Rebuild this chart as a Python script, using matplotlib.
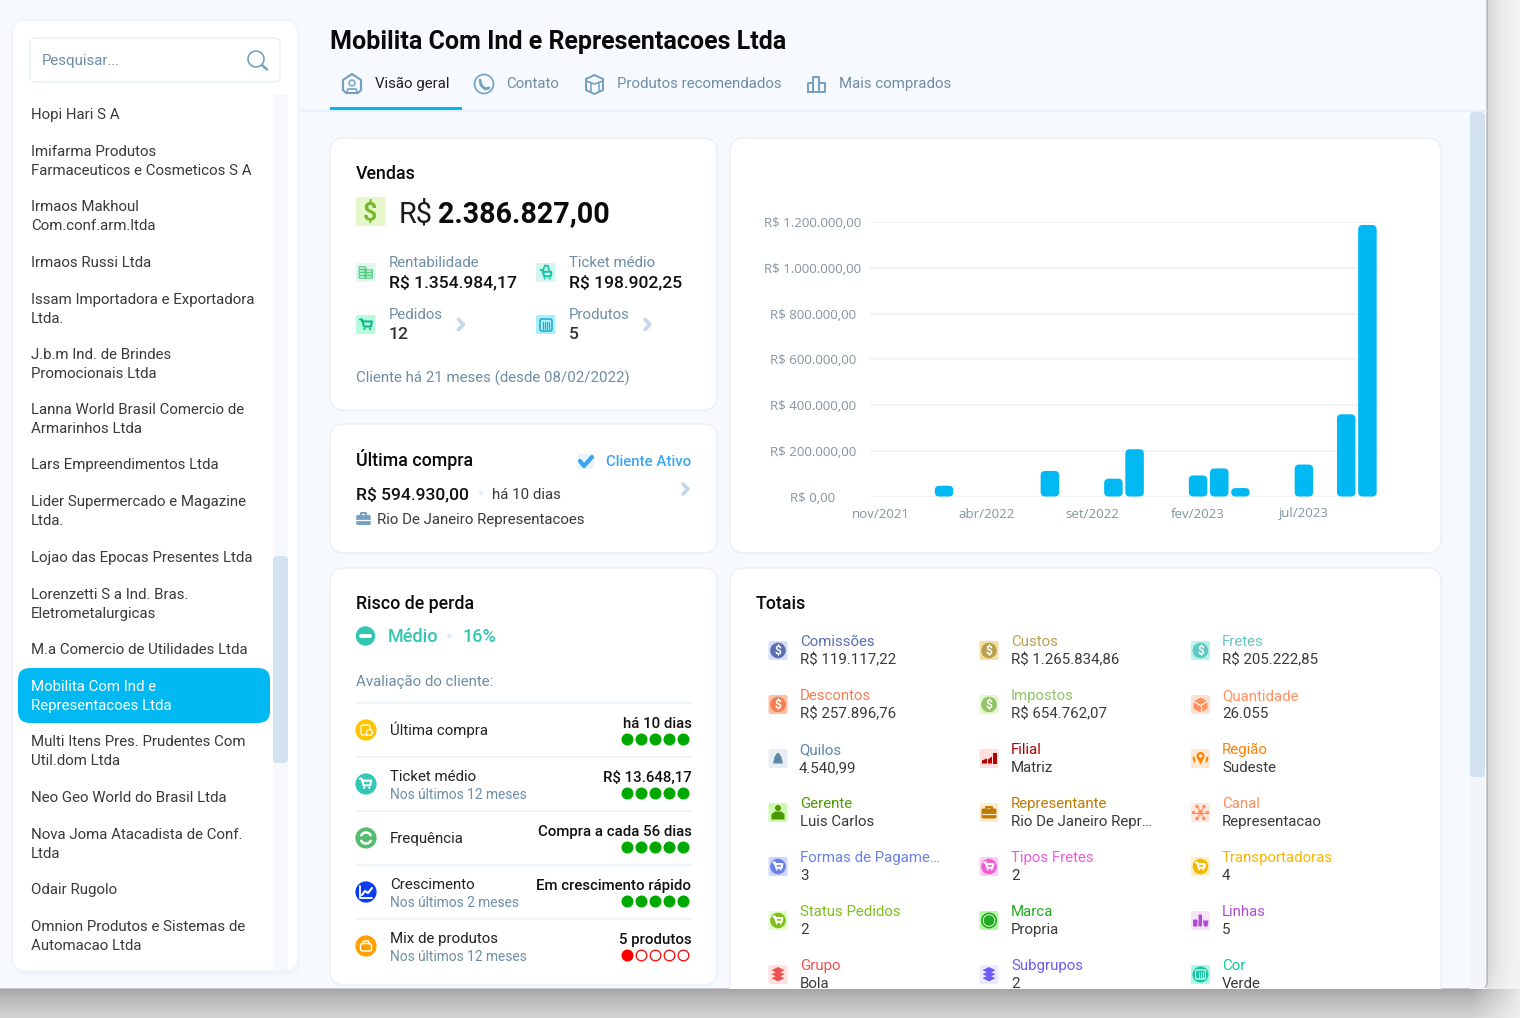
import numpy as np
import matplotlib
matplotlib.use("Agg")
import matplotlib.pyplot as plt
from matplotlib.patches import FancyBboxPatch, Circle, Rectangle, Polygon

# ---------- data ----------
months = ["nov/2021","dez/2021","jan/2022","fev/2022","mar/2022","abr/2022","mai/2022","jun/2022",
          "jul/2022","ago/2022","set/2022","out/2022","nov/2022","dez/2022","jan/2023","fev/2023",
          "mar/2023","abr/2023","mai/2023","jun/2023","jul/2023","ago/2023","set/2023","out/2023"]
sales = [0,0,0,47000,0,0,0,0,112000,0,0,78000,207000,0,0,92000,123000,37000,0,0,140000,0,360000,1189000]
y_ticks = [0,200000,400000,600000,800000,1000000,1200000]
y_tick_labels = ["R$ 0,00","R$ 200.000,00","R$ 400.000,00","R$ 600.000,00","R$ 800.000,00",
                 "R$ 1.000.000,00","R$ 1.200.000,00"]
x_tick_idx = [0,5,10,15,20]

sidebar_items = ["Hopi Hari S A","Imifarma Produtos\nFarmaceuticos e Cosmeticos S A","Irmaos Makhoul\nCom.conf.arm.ltda",
 "Irmaos Russi Ltda","Issam Importadora e Exportadora\nLtda.","J.b.m Ind. de Brindes\nPromocionais Ltda",
 "Lanna World Brasil Comercio de\nArmarinhos Ltda","Lars Empreendimentos Ltda","Lider Supermercado e Magazine\nLtda.",
 "Lojao das Epocas Presentes Ltda","Lorenzetti S a Ind. Bras.\nEletrometalurgicas","M.a Comercio de Utilidades Ltda",
 "Mobilita Com Ind e\nRepresentacoes Ltda","Multi Itens Pres. Prudentes Com\nUtil.dom Ltda","Neo Geo World do Brasil Ltda",
 "Nova Joma Atacadista de Conf.\nLtda","Odair Rugolo","Omnion Produtos e Sistemas de\nAutomacao Ltda"]
sidebar_y = [114,160.5,215.5,262,308.5,363.5,418.5,464,510.5,557,603.5,649,695.5,750.5,797,843.5,889,935.5]
selected_item = 12

tab_labels = ["Visão geral","Contato","Produtos recomendados","Mais comprados"]

risk_labels = ["Última compra","Ticket médio","Frequência","Crescimento","Mix de produtos"]
risk_subs = ["","Nos últimos 12 meses","","Nos últimos 2 meses","Nos últimos 12 meses"]
risk_values = ["há 10 dias","R$ 13.648,17","Compra a cada 56 dias","Em crescimento rápido","5 produtos"]
risk_scores = [5,5,5,5,1]
risk_colors = ["#ffc400","#35c6b6","#55bb6e","#0a3cf0","#ff9f00"]

total_labels = ["Comissões","Custos","Fretes","Descontos","Impostos","Quantidade","Quilos","Filial","Região",
                "Gerente","Representante","Canal","Formas de Pagame…","Tipos Fretes","Transportadoras",
                "Status Pedidos","Marca","Linhas","Grupo","Subgrupos","Cor"]
total_values = ["R$ 119.117,22","R$ 1.265.834,86","R$ 205.222,85","R$ 257.896,76","R$ 654.762,07","26.055",
                "4.540,99","Matriz","Sudeste","Luis Carlos","Rio De Janeiro Repr…","Representacao",
                "3","2","4","2","Propria","5","Bola","2","Verde"]
total_colors = ["#5b6fb0","#b8a050","#62c8bf","#f37f55","#93c36b","#ff9060","#5f87aa","#b00000","#ff8000",
                "#4c9a00","#bf7a00","#ff8c5a","#6a80e8","#ee5fd5","#f5b800","#7ec01c","#22aa22","#b04ad0",
                "#f05050","#6a5cf5","#10c8a0"]
total_tints = ["#d5dffb","#f5df9f","#b5f5ee","#ffc0a5","#e3f9cc","#ffe0d0","#e8eef3","#ffdede","#ffe8d0",
               "#d0f8b0","#ffeccf","#ffe8e0","#cfd8fb","#fbd0f5","#fff0c0","#e3fcc8","#b5f9a5","#f5e4fc",
               "#ffe0e0","#ece8ff","#b0f8e5"]
total_icons = ["dollar","dollar","dollar","dollar","dollar","box","weight","chart","pin","person","case","net",
               "cart","cart","cart","cart","badge","bottle","layers","layers","barrel"]

# ---------- set-up ----------
W, H = 1520, 1018
plt.rcParams["font.family"] = ["Roboto", "DejaVu Sans"]
fig = plt.figure(figsize=(W/100, H/100), dpi=100)
ax = fig.add_axes([0, 0, 1, 1])
ax.set_xlim(0, W); ax.set_ylim(H, 0); ax.axis("off")

BG = "#f6f9fd"; BORDER = "#e8f0f8"; MUTED = "#6d8ea4"; DARK = "#3a3a3a"; BLUE = "#00b9f2"; THUMB = "#d3e2f1"
PX = 0.72

def T(x, y, s, size=15, color=DARK, weight="normal", ha="left", z=6, clip=None, **k):
    # y is the middle of the capital letters; the text sits on a baseline so all rows line up
    t = ax.text(x, y+0.355*size, s, fontsize=size*PX, color=color, fontweight=weight, ha=ha, va="baseline", zorder=z, **k)
    if clip is not None:
        t.set_clip_path(clip); t.set_clip_on(True)
    return t

def RR(x0, y0, x1, y1, r, fc, ec="none", lw=1, z=2, **k):
    p = FancyBboxPatch((x0, y0), x1-x0, y1-y0, boxstyle=f"round,pad=0,rounding_size={r}", fc=fc, ec=ec, lw=lw, zorder=z, **k)
    ax.add_patch(p); return p

def C(x, y, r, fc, ec="none", lw=1, z=4):
    p = Circle((x, y), r, fc=fc, ec=ec, lw=lw, zorder=z); ax.add_patch(p); return p

def L(pts, color, lw=1.2, z=5, **k):
    a = np.array(pts, float)
    ax.plot(a[:,0], a[:,1], color=color, lw=lw*PX*1.4, zorder=z, solid_capstyle="round", solid_joinstyle="round", **k)

def P(pts, color, z=5):
    ax.add_patch(Polygon(pts, closed=True, fc=color, ec="none", zorder=z))

def chevron(x, y, color="#c3d8ec"):
    L([(x-3, y-5), (x+2, y), (x-3, y+5)], color, lw=2.6)

def cart(cx, cy, color, s=1.0):
    L([(cx-6*s,cy-5*s),(cx-4*s,cy-5*s),(cx-2*s,cy+2*s),(cx+5*s,cy+2*s),(cx+6*s,cy-3*s),(cx-3.5*s,cy-3*s)], color, lw=1.5)
    C(cx-1.5*s, cy+4.5*s, 1.1*s, color, z=5); C(cx+4*s, cy+4.5*s, 1.1*s, color, z=5)

def case(cx, cy, w, h, color, knock="white"):
    RR(cx-w/2, cy-h/2+2, cx+w/2, cy+h/2, 1.5, color, z=5)
    L([(cx-w/5, cy-h/2+2),(cx-w/5, cy-h/2),(cx+w/5, cy-h/2),(cx+w/5, cy-h/2+2)], color, lw=1.4)
    L([(cx-w/2, cy+1),(cx+w/2, cy+1)], knock, lw=0.9, z=6)

def layers(cx, cy, color):
    for dy in (-4, 0, 4):
        P([(cx-7,cy+dy),(cx,cy+dy-3.5),(cx+7,cy+dy),(cx,cy+dy+3.5)], color, z=5)
        L([(cx-7,cy+dy),(cx,cy+dy+3.5),(cx+7,cy+dy)], "white", lw=0.6, z=5)

def total_icon(kind, cx, cy, color, tint):
    RR(cx-9.5, cy-9.5, cx+9.5, cy+9.5, 2, tint, z=3)
    if kind == "dollar":
        C(cx, cy, 7.8, color)
        T(cx, cy, "$", size=12, color="white", weight="bold", ha="center")
    elif kind == "box":
        P([(cx-7,cy-3),(cx,cy-7),(cx+7,cy-3),(cx+7,cy+4),(cx,cy+8),(cx-7,cy+4)], color)
        L([(cx-7,cy-3),(cx,cy+1),(cx+7,cy-3)], "white", lw=0.8, z=6); L([(cx,cy+1),(cx,cy+8)], "white", lw=0.8, z=6)
    elif kind == "weight":
        P([(cx-3,cy-3),(cx+3,cy-3),(cx+5,cy+5),(cx-5,cy+5)], color); C(cx, cy-3.5, 2, color, z=5)
    elif kind == "chart":
        P([(cx-7,cy+5),(cx-7,cy+2),(cx-2,cy),(cx-2,cy+5)], color); P([(cx-1,cy+5),(cx-1,cy+1),(cx+3,cy-2),(cx+3,cy+5)], color)
        ax.add_patch(Rectangle((cx+4, cy-6), 3.5, 11, fc=color, zorder=5))
    elif kind == "pin":
        C(cx, cy-2.5, 4, color); C(cx, cy-2.5, 1.8, tint, z=5); P([(cx-3,cy),(cx+3,cy),(cx,cy+6)], color)
        L([(cx-7,cy-1),(cx-6,cy+3)], color, lw=1.4); L([(cx+7,cy-1),(cx+6,cy+3)], color, lw=1.4)
    elif kind == "person":
        C(cx, cy-4.5, 3, color); P([(cx-6.5,cy+7),(cx-6.5,cy+1.5),(cx-3,cy-1),(cx+3,cy-1),(cx+6.5,cy+1.5),(cx+6.5,cy+7)], color)
    elif kind == "case":
        case(cx, cy, 15, 12, color, knock=tint)
    elif kind == "net":
        C(cx, cy, 2.2, color)
        for a in range(0, 360, 60):
            ex, ey = cx+7*np.cos(np.radians(a)), cy+7*np.sin(np.radians(a))
            L([(cx, cy), (ex, ey)], color, lw=0.8); C(ex, ey, 1.7, color)
    elif kind == "cart":
        C(cx, cy, 7.8, color); cart(cx-0.2, cy-0.2, "white", 0.75)
    elif kind == "badge":
        C(cx, cy, 8, color); C(cx, cy, 5.8, color, ec="#dff7d5", lw=0.7, z=5)
    elif kind == "bottle":
        RR(cx-7.5, cy-1, cx-3, cy+6, 1, color, z=5); RR(cx-2, cy-6, cx+1.5, cy+6, 1, color, z=5)
        P([(cx+2.5,cy),(cx+8,cy),(cx+7,cy+6),(cx+3.5,cy+6)], color)
    elif kind == "layers":
        layers(cx, cy, color)
    elif kind == "barrel":
        C(cx, cy, 8, color); RR(cx-5, cy-4.5, cx+5, cy+4.5, 1, "none", ec="white", lw=0.8, z=5)
        for d in (-2, 0, 2):
            L([(cx+d, cy-3), (cx+d, cy+3)], "white", lw=0.6, z=6)

# ---------- backdrop with window shadow ----------
yy, xx = np.mgrid[0:H, 0:W]
dy = np.clip(yy-989, 0, None); dx = np.clip(xx-1487, 0, None)
fade_x = np.clip((1530-xx)/60, 0, 1)
fade_y = np.clip((1018-yy)/60+0.1, 0, 1)
dark_b = 0.31*np.exp(-dy/36.0)*(yy >= 989)*fade_x
dark_r = 0.13*np.exp(-dx/14.0)*(xx >= 1487)*fade_y
dark = np.maximum(dark_b, dark_r)
ax.imshow(1-0.04-dark, cmap="gray", vmin=0, vmax=1, extent=(0, W, H, 0), zorder=0, aspect="auto", interpolation="bilinear")
ax.set_xlim(0, W); ax.set_ylim(H, 0)

window = FancyBboxPatch((-20, -20), 1507, 1009, boxstyle="round,pad=0,rounding_size=7", fc=BG, ec="#a6a6a6", lw=0.8, zorder=1)
ax.add_patch(window)
clip_win = Rectangle((0, 0), 1487, 989, transform=ax.transData)

# ---------- header ----------
T(330, 40.5, "Mobilita Com Ind e Representacoes Ltda", size=25, color="#0a0a0a", weight="bold")
ax.add_patch(Rectangle((302, 110), 1185, 1.5, fc="#e6eff8", ec="none", zorder=2))
ax.add_patch(Rectangle((330, 107), 131.5, 3.2, fc=BLUE, ec="none", zorder=3))
tab_x = [375, 506, 617, 839]
for i, (tx, lab) in enumerate(zip(tab_x, tab_labels)):
    T(tx, 83, lab, size=15, color="#222222" if i == 0 else MUTED)
ic = "#74a0c2"
# tab icons
L([(343,90),(343,80),(352,74),(361,80),(361,90),(358,93),(346,93),(343,90)], ic, lw=1.5)
C(352, 83, 3, "none", ec=ic, lw=1.0, z=5); L([(347,92),(348,89),(356,89),(357,92)], ic, lw=1.2)
C(484, 84, 9.5, "none", ec=ic, lw=1.2, z=5); L([(480,80),(481,85),(485,89),(489,88)], ic, lw=2.0)
L([(586,79),(594.5,75),(603,79),(603,90),(594.5,94),(586,90),(586,79)], ic, lw=1.4)
L([(586,81),(594.5,84),(603,81)], ic, lw=1.2); L([(590.5,83),(590.5,92)], ic, lw=1.1); L([(598.5,83),(598.5,92)], ic, lw=1.1)
L([(808,92),(808,83),(813,83),(813,92),(808,92)], ic, lw=1.4); L([(813,92),(813,77),(819,77),(819,92),(813,92)], ic, lw=1.4)
L([(819,92),(825,92),(825,83),(819,83)], ic, lw=1.4)

# ---------- sidebar ----------
RR(14, 24, 300, 975, 14, "#e9f0f8", z=1, alpha=0.5)
RR(12, 20, 298, 971, 14, "white", ec="#eef4fa", lw=1, z=2)
RR(30, 38, 280, 82, 6, "white", ec="#e3ecf5", lw=0.8, z=3)
T(42, 60, "Pesquisar...", size=15, color=MUTED)
C(256, 59, 8, "none", ec="#74a0c2", lw=1.2, z=5); L([(262,65),(267,69.5)], "#74a0c2", lw=1.8)
ax.add_patch(Rectangle((273, 95), 15, 875, fc="#f5f8fc", ec="none", zorder=3))
RR(273, 556, 288, 763, 4, THUMB, z=4)
RR(18, 668, 270, 723, 12, BLUE, z=4)
for i, (s, y) in enumerate(zip(sidebar_items, sidebar_y)):
    col = "white" if i == selected_item else DARK
    rows = s.split("\n")
    if len(rows) == 1:
        T(31, y, rows[0], size=15, color=col)
    else:
        T(31, y-9.5, rows[0], size=15, color=col)
        T(31, y+9.5, rows[1], size=15, color=col)

# right page scrollbar
ax.add_patch(Rectangle((1470, 112), 15, 877, fc="#f2f6fb", ec="none", zorder=2))
RR(1470, 112, 1485, 777, 4, THUMB, z=3)

# ---------- cards ----------
for (x0, y0, x1, y1) in [(330,138,717,410),(330,424,717,553),(330,568,717,985),(730,138,1441,553),(730,568,1441,1010)]:
    p = RR(x0, y0, x1, y1, 14, "white", ec=BORDER, lw=1, z=2)
    p.set_clip_path(clip_win)

# Vendas
T(356, 173, "Vendas", size=17.7, color="#0a0a0a", weight="medium")
RR(356, 197, 385.5, 226, 2, "#e6f8c9", z=3)
T(370.5, 211.5, "$", size=25, color="#78b82e", weight="bold", ha="center")
T(399, 212, "R$", size=29, color="#1c1c1c")
T(438, 212, "2.386.827,00", size=28.6, color="#0a0a0a", weight="bold")
T(389, 262, "Rentabilidade", size=15, color=MUTED)
T(389, 281, "R$ 1.354.984,17", size=17.5, color="#111111", weight="medium")
T(569, 262, "Ticket médio", size=15, color=MUTED)
T(569, 281, "R$ 198.902,25", size=17.5, color="#111111", weight="medium")
T(389, 314, "Pedidos", size=15, color=MUTED)
T(389, 333, "12", size=17.5, color="#333333", weight="medium")
T(569, 314, "Produtos", size=15, color=MUTED)
T(569, 333, "5", size=17.5, color="#333333", weight="medium")
RR(356, 263, 375.5, 282, 2, "#e0f6ee", z=3)
for d in (-4, -1, 2, 5):
    RR(359, 272+d-1.2, 366, 272+d+1.2, 1, "none", ec="#48cc7e", lw=0.8, z=5)
for d in (-1, 2, 5):
    RR(365, 272+d-1.2, 372.5, 272+d+1.2, 1, "none", ec="#48cc7e", lw=0.8, z=5)
RR(536, 263, 555.5, 282, 2, "#d2f7ef", z=3)
cart(546, 274.5, "#1cc3a6", 0.9)
L([(543,270),(545,265.5),(548,266),(549,270)], "#1cc3a6", lw=1.3)
RR(356, 315, 375.5, 334, 2, "#b5fbdc", z=3)
cart(366, 324.5, "#10b88c", 1.0)
RR(536, 315, 555.5, 334, 2, "#a5f0fb", z=3)
RR(540, 319, 552, 331, 2, "none", ec="#25a7c5", lw=1.1, z=5)
for d in (-3, -1, 1, 3):
    L([(546+d, 321.5), (546+d, 328.5)], "#25a7c5", lw=0.8)
chevron(461.5, 324.5); chevron(648, 324.5)
T(356, 377, "Cliente há 21 meses (desde 08/02/2022)", size=15, color=MUTED)

# Ultima compra
T(356, 460, "Última compra", size=17.7, color="#0a0a0a", weight="medium")
ax.add_patch(Rectangle((578, 454), 15.5, 15, fc="#eaf4fc", ec="none", zorder=3))
L([(580,461),(584,466),(592,457)], "#3fa4ef", lw=3)
T(691.5, 461, "Cliente Ativo", size=15, color="#3fa4ef", weight="medium", ha="right")
T(356, 493, "R$ 594.930,00", size=17.5, color="#111111", weight="medium")
C(481, 493, 2.3, "#e3edf7")
T(492.5, 494, "há 10 dias", size=15, color=DARK)
chevron(686, 489)
case(363.5, 519, 14.5, 12, "#74a0c2")
T(377, 519, "Rio De Janeiro Representacoes", size=15, color=DARK)

# Risco
T(356, 603, "Risco de perda", size=17.7, color="#0a0a0a", weight="medium")
C(365.5, 636, 9.7, "#31c6b2")
L([(361, 636), (370, 636)], "white", lw=2.8, z=6)
T(388, 636, "Médio", size=18, color="#31c6b2", weight="medium")
C(449.5, 636, 2.3, "#e3edf7")
T(463, 636, "16%", size=18, color="#31c6b2", weight="medium")
T(356, 681, "Avaliação do cliente:", size=15, color=MUTED)

for i in range(5):
    y0 = 703 + 54*i
    ax.add_patch(Rectangle((356, y0-0.8), 335.5, 1.8, fc="#eff4f9", ec="none", zorder=3))
    cy = y0 + 27
    C(366, cy, 10.6, risk_colors[i])
    if i == 0:
        RR(361, cy-5, 370, cy+5, 1.5, "none", ec="white", lw=0.9, z=5); C(369.5, cy+2.5, 3, risk_colors[i], ec="white", lw=0.9, z=6)
    elif i == 1:
        cart(365.5, cy-0.5, "white", 0.95)
    elif i == 2:
        th = np.radians(np.arange(30, 160, 10)); L(np.c_[366+5.5*np.cos(th), cy-5.5*np.sin(th)], "white", lw=1.8)
        L(np.c_[366-5.5*np.cos(th), cy+5.5*np.sin(th)], "white", lw=1.8)
    elif i == 3:
        L([(360,cy-6),(360,cy+6),(372,cy+6)], "white", lw=1.3); L([(362,cy+3),(365,cy-1),(368,cy+1),(372,cy-4)], "white", lw=1.5)
    else:
        RR(360.5, cy-2.5, 371.5, cy+5, 2, "none", ec="white", lw=1.0, z=5)
        L([(363,cy-2),(363.5,cy-5),(368.5,cy-5),(369,cy-2)], "white", lw=1.1)
    if risk_subs[i]:
        T(390, cy-8, risk_labels[i], size=15, color="#222222")
        T(390, cy+10, risk_subs[i], size=13.7, color=MUTED)
    else:
        T(390, cy, risk_labels[i], size=15, color="#222222")
    T(691.5, cy-7, risk_values[i], size=15, color="#111111", weight="medium", ha="right")
    col = "#00a900" if risk_scores[i] >= 3 else "#ff0000"
    for k in range(5):
        xk = 627.5 + 14*k
        if k < risk_scores[i]:
            C(xk, cy+9.5, 6, col)
        else:
            C(xk, cy+9.5, 5.3, "white", ec=col, lw=0.9)

# Totais
T(756, 603, "Totais", size=17.7, color="#0a0a0a", weight="medium")
col_icon = [778, 989, 1200.5]; col_text = [800, 1011, 1222]
for i, lab in enumerate(total_labels):
    r, c = divmod(i, 3)
    y = 641 + 54*r
    tx = 799 if lab == "Quilos" else col_text[c]
    T(tx, y, lab, size=15, color=total_colors[i], clip=clip_win)
    T(tx, y+18, total_values[i], size=15, color=DARK, clip=clip_win)
    total_icon(total_icons[i], col_icon[c], y+9.5, total_colors[i], total_tints[i])

# ---------- bar chart in its own axes ----------
LEFT, RIGHT, TOP, BOT = 870, 1378, 222.5, 496.5
bx = fig.add_axes([LEFT/W, 1-BOT/H, (RIGHT-LEFT)/W, (BOT-TOP)/H], facecolor="none", zorder=5)
bx.set_xlim(-0.5, len(months)-0.5); bx.set_ylim(0, 1200000)
for s in bx.spines.values():
    s.set_visible(False)
bx.grid(axis="y", color="#f1f3f5", lw=1.5); bx.set_axisbelow(True)
xs = np.arange(len(months))
bars = bx.bar(xs, sales, width=0.875, color="none", lw=0, zorder=3)
unit_x = (RIGHT-LEFT)/len(months); unit_y = 1200000/(BOT-TOP)
rnd = 4.5/unit_x
for b in bars:
    if b.get_height() > 0:
        bx.add_patch(FancyBboxPatch((b.get_x(), b.get_y()), b.get_width(), b.get_height(),
                                    boxstyle=f"round,pad=0,rounding_size={rnd}", mutation_aspect=unit_y*unit_x,
                                    fc=BLUE, ec="none", zorder=3, clip_on=False))
bx.set_yticks(y_ticks); bx.set_yticklabels(y_tick_labels)
bx.set_xticks(x_tick_idx); bx.set_xticklabels([months[i] for i in x_tick_idx])
bx.tick_params(axis="both", length=0, labelcolor="#83959f", labelsize=13.3*PX)
bx.tick_params(axis="y", pad=57*PX)
bx.tick_params(axis="x", pad=11*PX)
for t in bx.get_yticklabels():
    t.set_ha("center"); t.set_fontfamily("Open Sans")
    t.set_y(t.get_position()[1]); t.set_va("center_baseline")
for t in bx.get_xticklabels():
    t.set_fontfamily("Open Sans")

fig.savefig("out.png", dpi=100)
